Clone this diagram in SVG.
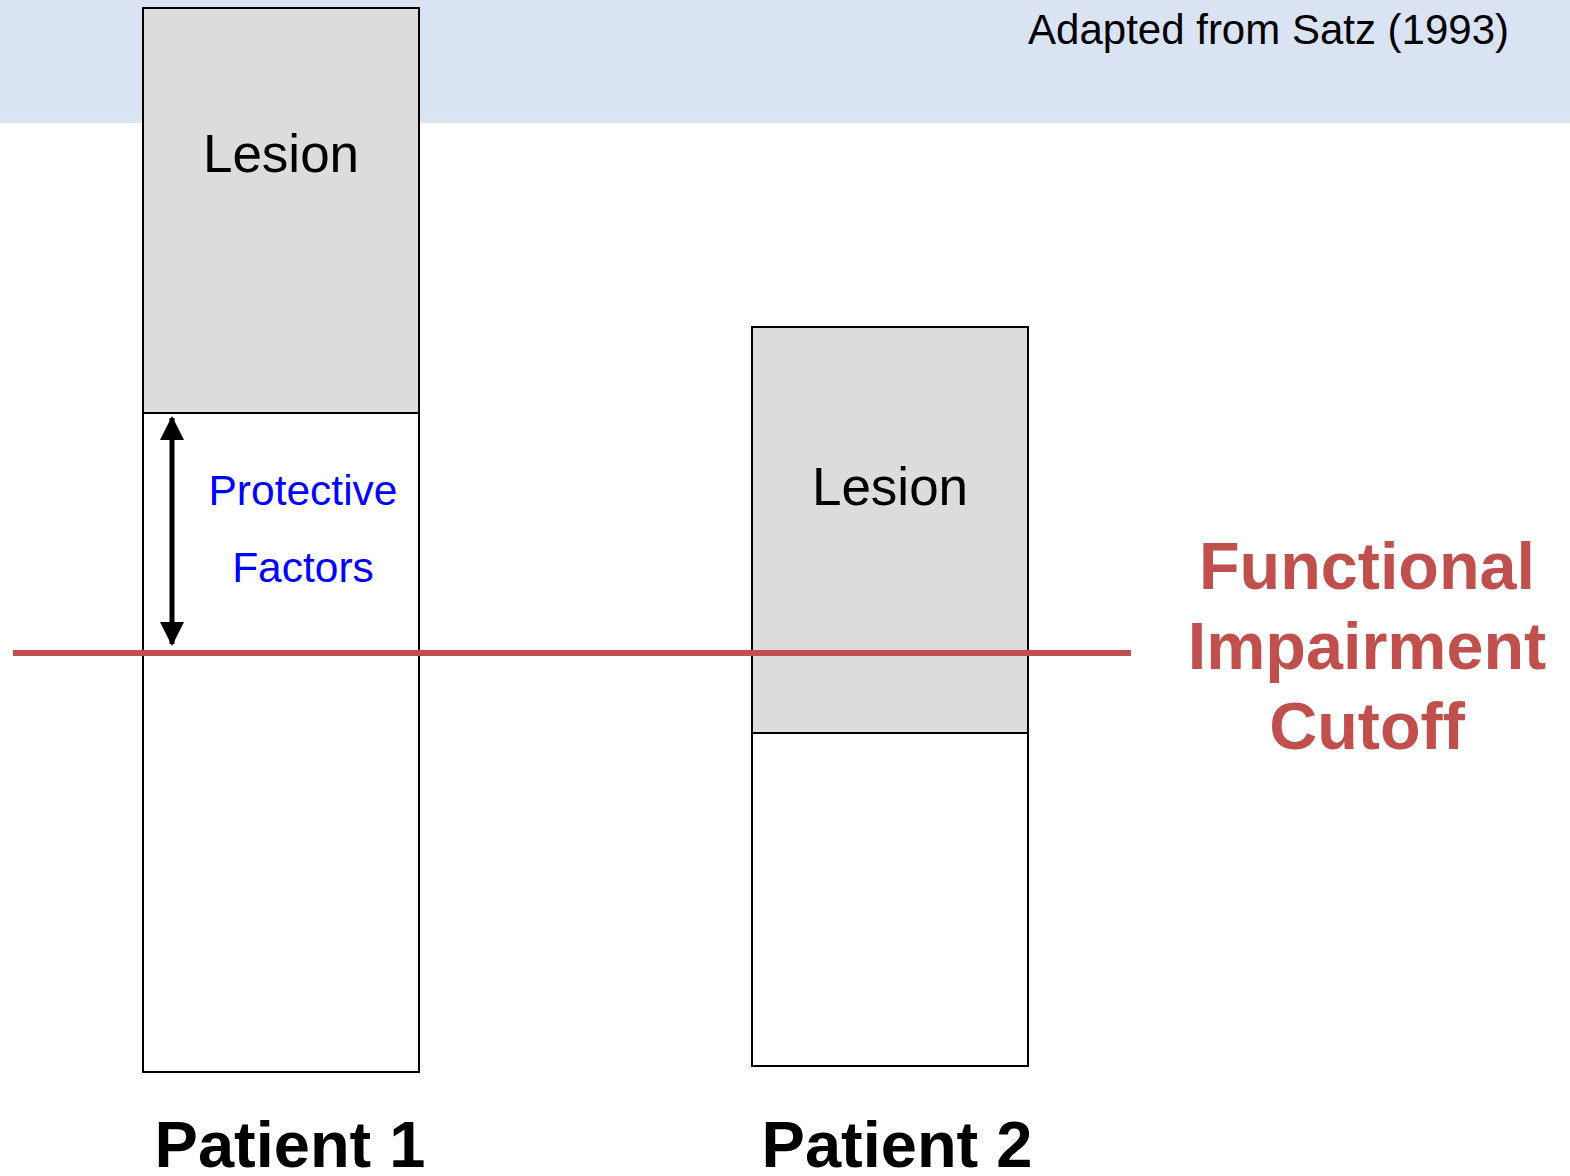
<svg xmlns="http://www.w3.org/2000/svg" width="1570" height="1176" viewBox="0 0 1570 1176">
<defs>
<linearGradient id="band" x1="0" y1="0" x2="0" y2="1">
<stop offset="0.9" stop-color="#D9E3F3"/>
<stop offset="1" stop-color="#DCE6F0"/>
</linearGradient>
<marker id="ah" viewBox="0 0 24 24" refX="22" refY="12" markerWidth="24" markerHeight="24" markerUnits="userSpaceOnUse" orient="auto-start-reverse">
<path d="M0,0 L24,12 L0,24 Z" fill="#000"/>
</marker>
</defs>
<style>
.box{fill:#fff;stroke:#000;stroke-width:2}
.lesion{fill:#DCDCDC;stroke:#000;stroke-width:2}
.t{font-family:"Liberation Sans",Arial,sans-serif;text-anchor:middle}
.lbl{font-size:53px;fill:#000}
.pf{font-size:42.5px;fill:#0000FF}
.pat{font-size:65px;font-weight:bold;fill:#000}
.fic{font-size:66.5px;font-weight:bold;fill:#C0504D}
</style>
<rect x="0" y="0" width="1570" height="123" fill="url(#band)"/>
<text x="1509" y="44" class="t" style="font-size:42px;text-anchor:end" fill="#000">Adapted from Satz (1993)</text>
<g id="patient1">
<rect class="box" x="143" y="8" width="276" height="1064"/>
<rect class="lesion" x="143" y="8" width="276" height="405"/>
<text class="t lbl" x="281" y="172">Lesion</text>
<text class="t pf" x="303" y="505">Protective</text>
<text class="t pf" x="303" y="582">Factors</text>
</g>
<g id="patient2">
<rect class="box" x="752" y="327" width="276" height="739"/>
<rect class="lesion" x="752" y="327" width="276" height="406"/>
<text class="t lbl" x="890" y="505">Lesion</text>
</g>
<g id="connectors">
<line x1="13" y1="653" x2="1131" y2="653" stroke="#C0504D" stroke-width="6"/>
<line x1="172" y1="418" x2="172" y2="644" stroke="#000" stroke-width="5" marker-start="url(#ah)" marker-end="url(#ah)"/>
</g>
<text class="t pat" x="290" y="1167">Patient 1</text>
<text class="t pat" x="897" y="1167">Patient 2</text>
<text class="t fic" x="1367" y="589">Functional</text>
<text class="t fic" x="1367" y="669">Impairment</text>
<text class="t fic" x="1367" y="749">Cutoff</text>
</svg>
